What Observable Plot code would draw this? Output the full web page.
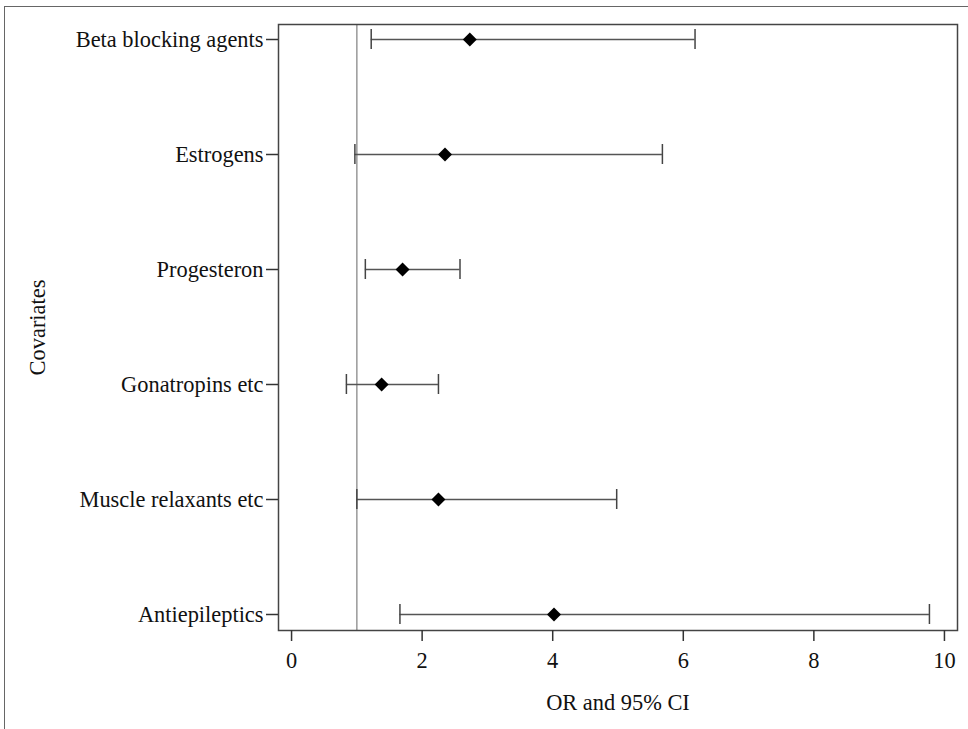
<!DOCTYPE html>
<html>
<head>
<meta charset="utf-8">
<script src="https://cdn.jsdelivr.net/npm/d3@7"></script>
<script src="https://cdn.jsdelivr.net/npm/@observablehq/plot@0.6"></script>
<style>
  html, body { margin: 0; padding: 0; background: #fff; overflow: hidden; }
  #wrap { position: relative; width: 968px; height: 729px; }
  #border { position: absolute; left: 4px; top: 6px; width: 1200px; height: 1200px;
            border-left: 1.5px solid #666; border-top: 1.5px solid #666; box-sizing: border-box; }
  #chart { position: absolute; left: 0; top: 0; }
</style>
</head>
<body>
<div id="wrap"><div id="border"></div><div id="chart"></div></div>
<script>
const categories = ["Beta blocking agents", "Estrogens", "Progesteron", "Gonatropins etc", "Muscle relaxants etc", "Antiepileptics"];
const oddsRatio = [2.73, 2.35, 1.70, 1.38, 2.25, 4.02];
const lowerCI = [1.22, 0.97, 1.13, 0.84, 1.00, 1.66];
const upperCI = [6.18, 5.68, 2.58, 2.25, 4.98, 9.77];
const xTicks = [0, 2, 4, 6, 8, 10];
const referenceOR = [1];
const xLabel = "OR and 95% CI";
const yLabel = "Covariates";

const rows = categories.map((name, i) => ({name, or: oddsRatio[i], lo: lowerCI[i], hi: upperCI[i]}));

const chart = Plot.plot({
  width: 968,
  height: 729,
  marginLeft: 278,
  marginRight: 11,
  marginTop: 24,
  marginBottom: 99,
  style: {fontFamily: "'Liberation Serif', 'Times New Roman', serif", fontSize: "22.4px", color: "#111", background: "transparent"},
  x: {domain: [-0.2, 10.2]},
  y: {type: "point", domain: categories, padding: 0, insetTop: 14, insetBottom: 15},
  marks: [
    Plot.ruleX(referenceOR, {x: d => d, stroke: "#999", strokeWidth: 1.5}),
    Plot.ruleY(rows, {y: "name", x1: "lo", x2: "hi", stroke: "#555", strokeWidth: 1.5}),
    Plot.ruleX(rows, {x: "lo", y1: "name", y2: "name", stroke: "#444", strokeWidth: 1.5, insetTop: -10, insetBottom: -10}),
    Plot.ruleX(rows, {x: "hi", y1: "name", y2: "name", stroke: "#444", strokeWidth: 1.5, insetTop: -10, insetBottom: -10}),
    Plot.dot(rows, {y: "name", x: "or", symbol: "diamond2", r: 6.3, fill: "#000", stroke: "none"}),
    Plot.frame({stroke: "#444", strokeWidth: 1.5}),
    Plot.axisX({ticks: xTicks, tickSize: 11, tickPadding: 11, label: null, stroke: "#333", strokeWidth: 1.5}),
    Plot.axisY({tickSize: 12, tickPadding: 3, label: null, stroke: "#333", strokeWidth: 1.5}),
    Plot.text([xLabel], {text: d => d, frameAnchor: "bottom", textAnchor: "middle", lineAnchor: "middle", dy: 72, fill: "#111"}),
    Plot.text([yLabel], {text: d => d, frameAnchor: "left", textAnchor: "middle", lineAnchor: "middle", dx: -241, rotate: -90, fill: "#111"})
  ]
});
document.getElementById("chart").appendChild(chart);
</script>
</body>
</html>
